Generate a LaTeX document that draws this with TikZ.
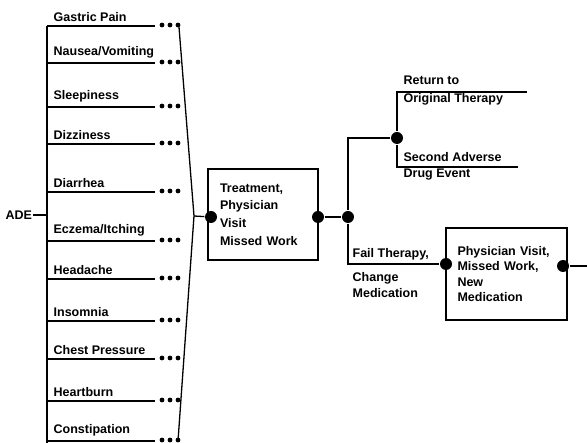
\documentclass[tikz,border=0pt]{standalone}
\usepackage{fontspec}
\setmainfont{Liberation Sans}
\usetikzlibrary{positioning, calc}

\begin{document}
\begin{tikzpicture}[x=1pt, y=-1pt, line width=1.3pt,
        dot/.style={circle, fill=black, inner sep=0pt, minimum size=12pt},
        pathbox/.style={draw, line width=1.2pt, inner sep=0pt, align=left},
        lbl/.style={inner sep=0pt, anchor=west, font=\bfseries\fontsize{12.5}{16}\selectfont}]
    \useasboundingbox (0,0) rectangle (587,443);

    % root and trunk
    \node[lbl] (ade) at (5,215) {ADE};
    \coordinate (trunktop) at (47,26);
    \coordinate (trunkbot) at (47,443);
    \draw (trunktop) -- (trunkbot);
    \draw (ade.east) -- (ade.east -| trunktop);

    % symptom branches
    \foreach \y/\name [count=\i] in {26/{Gastric Pain}, 63/{Nausea/Vomiting}, 107/{Sleepiness},
        144/{Dizziness}, 192/{Diarrhea}, 241/{Eczema/Itching}, 279/{Headache}, 321/{Insomnia},
        359/{Chest Pressure}, 401/{Heartburn}, 441/{Constipation}}{
        \coordinate (s\i) at (47,\y);
        \coordinate (e\i) at (155,\y);
        \draw (s\i) -- (e\i);
        \node[lbl, above right=4pt and 6pt of s\i, anchor=south west] (n\i) {\name};
        \foreach \dx in {7,15,23}
            \fill ($(e\i)+(\dx,-1)$) circle (2.4pt);
    }

    % bracket joining the branches
    \coordinate (brtop) at (179,27);
    \coordinate (brmid) at (194,216);
    \coordinate (brbot) at (178,441);
    \draw (brtop) -- (brmid) -- (brbot);

    % first outcome
    \node[pathbox, minimum width=110pt, minimum height=91pt, text width=86pt,
        font=\bfseries\fontsize{12.5}{17.7}\selectfont] (treat) at (263,214.5)
        {Treatment,\\Physician\\Visit\\Missed Work};
    \node[dot] (tin) at (211,217) {};
    \node[dot] (tout) at (318,217) {};
    \node[dot] (split) at (348,217) {};
    \draw (brmid) -- (tin);
    \draw (tout) -- (split);

    % return to therapy or second event
    \node[dot] (choice) at (397,138) {};
    \coordinate (retend) at (527,92);
    \coordinate (advend) at (518,167);
    \draw (split) |- (choice);
    \draw (choice) |- (retend);
    \draw (choice) |- (advend);
    \node[lbl] (ret1) at (403,80) {Return to};
    \node[lbl] (ret2) at (403,99) {Original Therapy};
    \node[lbl] (adv1) at (403,157) {Second Adverse};
    \node[lbl] (adv2) at (403,175) {Drug Event};

    % failed therapy
    \node[pathbox, minimum width=121pt, minimum height=92pt, text width=98pt,
        font=\bfseries\fontsize{12.5}{15.5}\selectfont] (visit) at (506.5,274)
        {Physician Visit,\\Missed Work,\\New\\Medication};
    \node[dot] (vin) at (446,264) {};
    \node[dot] (vout) at (563,266) {};
    \coordinate (vend) at (587,266);
    \draw (split) |- (vin);
    \draw (vout) -- (vend);
    \node[lbl] (fail1) at (352,254) {Fail Therapy,};
    \node[lbl] (fail2) at (352,278) {Change};
    \node[lbl] (fail3) at (352,293) {Medication};
\end{tikzpicture}
\end{document}
